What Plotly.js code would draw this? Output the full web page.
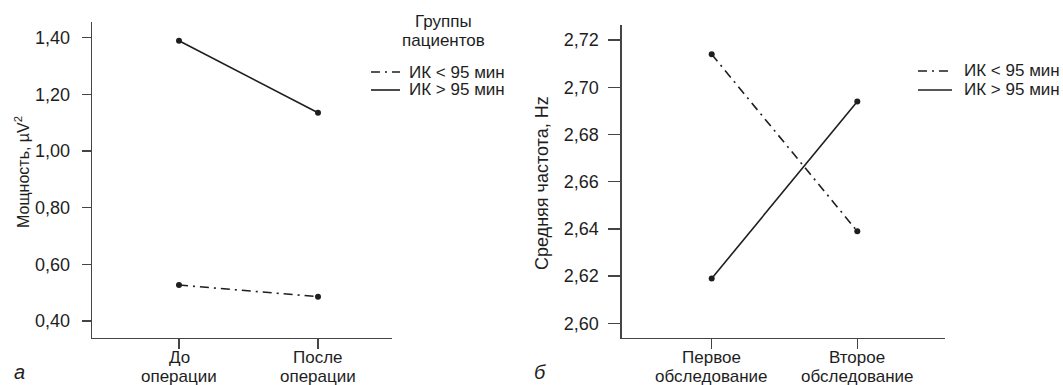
<!DOCTYPE html>
<html>
<head>
<meta charset="utf-8">
<script src="https://cdn.plot.ly/plotly-3.0.1.min.js"></script>
<style>
html,body{margin:0;padding:0;background:#fff;}
#chart{width:1063px;height:385px;}
</style>
</head>
<body>
<div id="chart"></div>
<script>
// ---- data ----
const catsA = [["До", "операции"], ["После", "операции"]];
const shortA = [1.389, 1.135];   // ИК > 95 мин
const longA = [0.527, 0.486];    // ИК < 95 мин (dash-dot)
const catsB = [["Первое", "обследование"], ["Второе", "обследование"]];
const shortB = [2.714, 2.639];   // ИК < 95 мин (dash-dot)
const longB = [2.619, 2.694];    // ИК > 95 мин
const seriesNames = ["ИК < 95 мин", "ИК > 95 мин"];
const yTicksA = [0.40, 0.60, 0.80, 1.00, 1.20, 1.40];
const yTicksB = [2.60, 2.62, 2.64, 2.66, 2.68, 2.70, 2.72];
const legendTitle = ["Группы", "пациентов"];
const yTitleA = "Мощность, µV<sup>2</sup>";
const yTitleB = "Средняя частота, Hz";
const panelLabels = ["а", "б"];

const W = 1063, H = 385;
const FONT = "Liberation Sans, Arial, Helvetica, sans-serif";
const INK = "#1e1e1e";
const DASHDOT = "9px,5px,2px,5px";
const FS = 18;
const FL = 17;

function px(x){ return x / W; }
function py(y){ return 1 - y / H; }

const lineStyle = (dash) => ({color: INK, width: 1.6, dash: dash});
const mk = {color: INK, size: 6};

const idx = [0, 1];
const traces = [
  {x: idx, y: longA, xaxis: "x", yaxis: "y", mode: "lines+markers", name: seriesNames[0],
   line: lineStyle(DASHDOT), marker: mk},
  {x: idx, y: shortA, xaxis: "x", yaxis: "y", mode: "lines+markers", name: seriesNames[1],
   line: lineStyle("solid"), marker: mk},
  {x: idx, y: shortB, xaxis: "x2", yaxis: "y2", mode: "lines+markers", name: seriesNames[0],
   line: lineStyle(DASHDOT), marker: mk},
  {x: idx, y: longB, xaxis: "x2", yaxis: "y2", mode: "lines+markers", name: seriesNames[1],
   line: lineStyle("solid"), marker: mk}
];

const fmt = v => v.toFixed(2).replace(".", ",");

const axBase = {
  showgrid: false, zeroline: false, showline: true, linecolor: "#444", linewidth: 1.4,
  ticks: "outside", tickcolor: "#444", tickwidth: 1.4, ticklen: 9,
  tickfont: {family: FONT, size: FS, color: INK}, fixedrange: true
};

const txt = (text, xref, x, y, opts) => Object.assign({
  text: text, xref: xref, yref: "paper", x: x, y: py(y),
  xanchor: "center", yanchor: "middle", showarrow: false,
  font: {family: FONT, size: FL, color: INK}
}, opts || {});

const annotations = [];
const shapes = [];

// category labels (two lines each) placed through the x axes
catsA.forEach((c, i) => {
  annotations.push(txt(c[0], "x", idx[i], 357));
  annotations.push(txt(c[1], "x", idx[i], 376));
});
catsB.forEach((c, i) => {
  annotations.push(txt(c[0], "x2", idx[i], 357));
  annotations.push(txt(c[1], "x2", idx[i], 376));
});

// legend titles
annotations.push(txt(legendTitle[0], "paper", px(443), 21));
annotations.push(txt(legendTitle[1], "paper", px(443), 40));

// legends (drawn as swatches + text)
const legends = [
  {x0: 371, x1: 400, tx: 407, rows: [72, 90]},
  {x0: 918, x1: 952, tx: 962, rows: [71, 90]}
];
const dashes = [DASHDOT, "solid"];
legends.forEach(L => {
  seriesNames.forEach((n, k) => {
    shapes.push({type: "line", xref: "paper", yref: "paper",
      x0: px(L.x0), x1: px(L.x1), y0: py(L.rows[k]), y1: py(L.rows[k]),
      line: {color: INK, width: 1.6, dash: dashes[k]}});
    annotations.push(txt(n, "paper", px(L.tx), L.rows[k], {xanchor: "left"}));
  });
});

// axis titles
annotations.push(txt(yTitleA, "paper", px(22), 172, {textangle: -90, font: {family: FONT, size: 16, color: INK}}));
annotations.push(txt(yTitleB, "paper", px(542), 183, {textangle: -90, font: {family: FONT, size: 18, color: INK}}));

// panel letters
annotations.push(txt("<i>" + panelLabels[0] + "</i>", "paper", px(19), 372, {font: {family: FONT, size: 20, color: INK}}));
annotations.push(txt("<i>" + panelLabels[1] + "</i>", "paper", px(540), 372, {font: {family: FONT, size: 20, color: INK}}));

const layout = {
  width: W, height: H,
  margin: {l: 0, r: 0, t: 0, b: 0},
  paper_bgcolor: "#fff", plot_bgcolor: "#fff",
  font: {family: FONT, size: FS, color: INK},
  showlegend: false,
  xaxis: Object.assign({}, axBase, {
    domain: [px(92), px(392)], anchor: "y",
    tickmode: "array", tickvals: idx, showticklabels: false,
    range: [-(179-92)/139, 1 + (392-318)/139], ticklen: 10
  }),
  yaxis: Object.assign({}, axBase, {
    domain: [py(338), py(22)], anchor: "x",
    tickmode: "array", tickvals: yTicksA, ticktext: yTicksA.map(fmt),
    range: [0.340, 1.4554], ticklen: 9, ticklabelstandoff: 8
  }),
  xaxis2: Object.assign({}, axBase, {
    domain: [px(621.7), px(945)], anchor: "y2",
    tickmode: "array", tickvals: idx, showticklabels: false,
    range: [-(711.7-621.7)/145.6, 1 + (945-857.3)/145.6], ticklen: 10
  }),
  yaxis2: Object.assign({}, axBase, {
    domain: [py(338), py(25)], anchor: "x2",
    tickmode: "array", tickvals: yTicksB, ticktext: yTicksB.map(fmt),
    range: [2.5938, 2.7264], ticklen: 12, ticklabelstandoff: 6
  }),
  annotations: annotations,
  shapes: shapes
};

Plotly.newPlot("chart", traces, layout, {displayModeBar: false, staticPlot: true});
</script>
</body>
</html>
